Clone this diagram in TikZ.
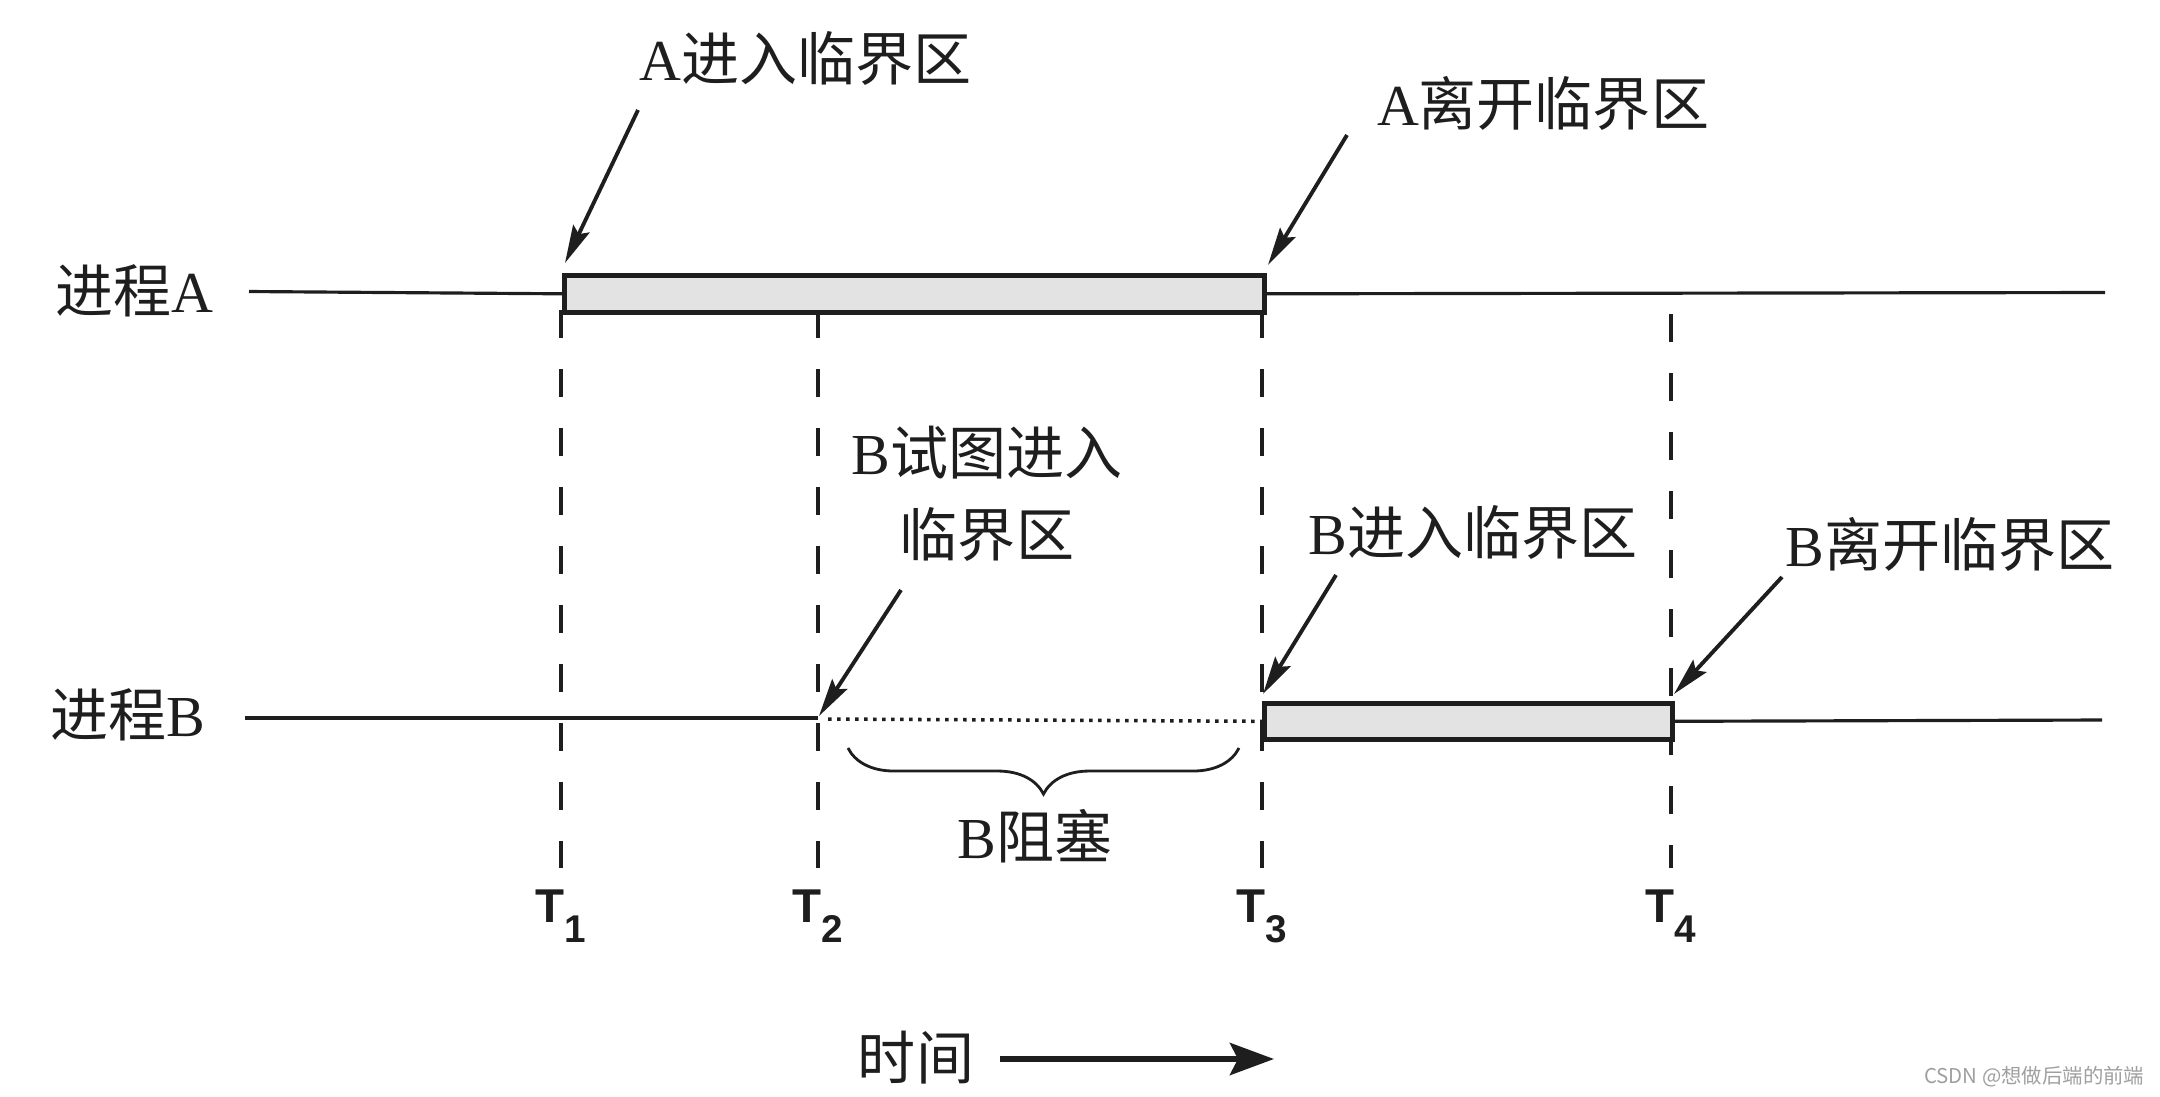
\documentclass[tikz,border=0pt]{standalone}
\usepackage{fontspec}
\setmainfont{Liberation Serif}
\newfontfamily\cjkfont{Noto Sans CJK SC}
\newfontfamily\tfont{Liberation Sans}
\usetikzlibrary{arrows.meta,decorations.pathreplacing}
\definecolor{ink}{HTML}{1E1E1E}
\definecolor{barfill}{HTML}{E3E3E3}
\begin{document}
\begin{tikzpicture}[x=0.01cm,y=-0.01cm,
  lbl/.style={inner sep=0pt, text=ink, font=\fontsize{16.5}{23.3}\selectfont},
  procline/.style={draw=ink, line width=0.9pt},
  bar/.style={draw=ink, fill=barfill, line width=1.3pt, inner sep=0pt, anchor=north west},
  tline/.style={draw=ink, line width=0.9pt, dash pattern=on 0.28cm off 0.31cm},
  callout/.style={draw=ink, line width=1.1pt, -{Stealth[length=0.38cm,width=0.18cm,inset=0.06cm]}},
  tlbl/.style={inner sep=0pt, text=ink, anchor=base, font=\tfont\bfseries\fontsize{13.5}{13.5}\selectfont},
]
\useasboundingbox (0,0) rectangle (2160,1096);

% process labels
\node[lbl] (pA) at (134,291) {{\cjkfont 进程}A};
\node[lbl] (pB) at (128,715) {{\cjkfont 进程}B};

% time dashed lines
\coordinate (t1top) at (561,310);  \coordinate (t1bot) at (561,868);
\coordinate (t2top) at (818,310);  \coordinate (t2bot) at (818,868);
\coordinate (t3top) at (1262,310); \coordinate (t3bot) at (1262,868);
\coordinate (t4top) at (1671,314); \coordinate (t4bot) at (1671,868);
\draw[tline] (t1top) -- (t1bot);
\draw[tline] (t2top) -- (t2bot);
\draw[tline] (t3top) -- (t3bot);
\draw[tline] (t4top) -- (t4bot);

% bars
\node[bar, minimum width=7cm, minimum height=0.37cm] (barA) at (562,273) {};
\node[bar, minimum width=4.08cm, minimum height=0.36cm] (barB) at (1262,701) {};

% process A line
\coordinate (aL) at (249,291.5);
\coordinate (aR) at (2105,292.5);
\draw[procline] (aL) -- (barA.west);
\draw[procline] (barA.east) -- (aR);

% process B line
\coordinate (bL) at (245,718);
\coordinate (bT2) at (818,718);
\coordinate (dotS) at (828,719);
\coordinate (bR) at (2102,720);
\draw[procline] (bL) -- (bT2);
\draw[draw=ink, line width=1pt, dash pattern=on 0.035cm off 0.055cm] (dotS) -- (barB.west);
\draw[procline] (barB.east) -- (bR);

% labels with callouts
\node[lbl] (lAin) at (806,58) {A{\cjkfont 进入临界区}};
\node[lbl] (lAout) at (1543,103) {A{\cjkfont 离开临界区}};
\node[lbl, align=center] (lBtry) at (987,494) {B{\cjkfont 试图进入}\\{\cjkfont 临界区}};
\node[lbl] (lBin) at (1473,532) {B{\cjkfont 进入临界区}};
\node[lbl] (lBout) at (1950,544) {B{\cjkfont 离开临界区}};

\coordinate (cAinS) at (638,110);   \coordinate (cAinT) at (565,263);
\coordinate (cAoutS) at (1347,135); \coordinate (cAoutT) at (1268,265);
\coordinate (cBtryS) at (901,590);  \coordinate (cBtryT) at (819,716);
\coordinate (cBinS) at (1336,575);  \coordinate (cBinT) at (1263,694);
\coordinate (cBoutS) at (1782,577); \coordinate (cBoutT) at (1674,694);
\draw[callout] (cAinS) -- (cAinT);
\draw[callout] (cAoutS) -- (cAoutT);
\draw[callout] (cBtryS) -- (cBtryT);
\draw[callout] (cBinS) -- (cBinT);
\draw[callout] (cBoutS) -- (cBoutT);

% brace
\coordinate (brR) at (1239,748);
\coordinate (brL) at (848,748);
\draw[draw=ink, line width=0.8pt, decorate, decoration={brace, amplitude=0.46cm}] (brR) -- (brL);
\node[lbl] (lBblock) at (1035,836) {B{\cjkfont 阻塞}};

% time labels
\node[tlbl] (T1) at (561,922) {T\raisebox{-0.2cm}{\fontsize{11}{11}\selectfont 1}};
\node[tlbl] (T2) at (818,922) {T\raisebox{-0.2cm}{\fontsize{11}{11}\selectfont 2}};
\node[tlbl] (T3) at (1262,922) {T\raisebox{-0.2cm}{\fontsize{11}{11}\selectfont 3}};
\node[tlbl] (T4) at (1671,922) {T\raisebox{-0.2cm}{\fontsize{11}{11}\selectfont 4}};

% time arrow
\node[lbl] (time) at (916,1058) {\cjkfont 时间};
\coordinate (tmS) at (1000,1059);
\coordinate (tmE) at (1274,1059);
\draw[draw=ink, line width=1.7pt, -{Stealth[length=0.44cm,width=0.32cm,inset=0.08cm]}] (tmS) -- (tmE);

% watermark
\node[anchor=east, inner sep=0pt, text=gray!75, font=\cjkfont\fontsize{5.8}{6}\selectfont] (wm) at (2145,1077) {CSDN @想做后端的前端};
\end{tikzpicture}
\end{document}
